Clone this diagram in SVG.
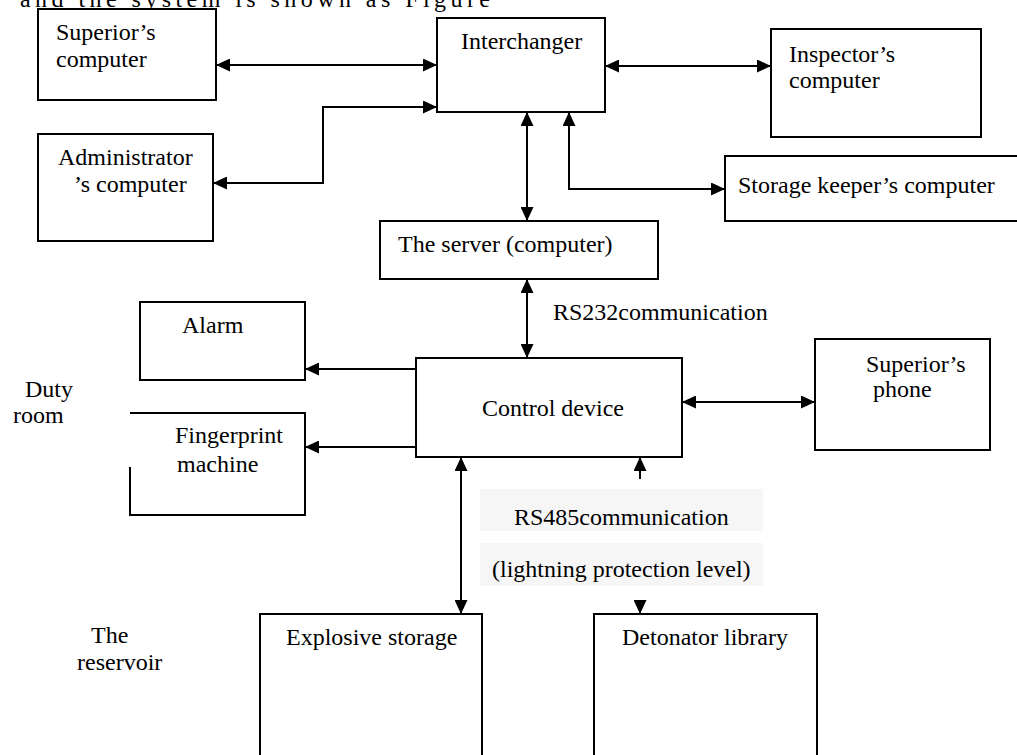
<svg xmlns="http://www.w3.org/2000/svg" width="1017" height="755" viewBox="0 0 1017 755">
<style>
text{font-family:"Liberation Serif","Times New Roman",serif;font-size:24px;fill:#000}
.box{fill:#fff;stroke:#000;stroke-width:2}
.ln{fill:none;stroke:#000;stroke-width:2}
.bg{fill:#f6f6f6;stroke:none}
</style>
<defs>
<marker id="ah" markerUnits="userSpaceOnUse" markerWidth="15" markerHeight="13" refX="14" refY="6.5" orient="auto-start-reverse">
<path d="M0,0 L14,6.5 L0,13 z" fill="#000"/>
</marker>
</defs>
<rect width="1017" height="755" fill="#fff"/>
<text x="20" y="7" textLength="470" lengthAdjust="spacing">and the system is shown as Figure</text>

<g id="superior-computer"><rect class="box" x="38" y="9" width="178" height="91"/><text x="56" y="40">Superior’s</text><text x="56" y="67">computer</text></g>
<g id="interchanger"><rect class="box" x="437" y="18" width="168" height="94"/><text x="461" y="49">Interchanger</text></g>
<g id="inspector-computer"><rect class="box" x="771" y="29" width="210" height="108"/><text x="789" y="62">Inspector’s</text><text x="789" y="88">computer</text></g>
<g id="administrator-computer"><rect class="box" x="38" y="134" width="175" height="107"/><text x="58" y="165">Administrator</text><text x="74" y="192">’s computer</text></g>
<g id="storage-keeper"><rect class="box" x="725" y="156" width="300" height="65"/><text x="738" y="193">Storage keeper’s computer</text></g>
<g id="server"><rect class="box" x="380" y="221" width="278" height="58"/><text x="398" y="252">The server (computer)</text></g>
<g id="rs232-label"><text x="553" y="320">RS232communication</text></g>
<g id="alarm"><rect class="box" x="140" y="302" width="165" height="78"/><text x="182" y="333">Alarm</text></g>
<g id="duty-room"><text x="25" y="397">Duty</text><text x="13" y="423">room</text></g>
<g id="control-device"><rect class="box" x="416" y="358" width="266" height="99"/><text x="482" y="416">Control device</text></g>
<g id="superior-phone"><rect class="box" x="815" y="339" width="175" height="111"/><text x="866" y="372">Superior’s</text><text x="873" y="397">phone</text></g>
<g id="fingerprint"><path class="box" d="M130,467 V515 H305 V413 H130"/><text x="175" y="443">Fingerprint</text><text x="177" y="472">machine</text></g>
<g id="rs485-label"><rect class="bg" x="480" y="489" width="283" height="42"/><text x="514" y="525">RS485communication</text><rect class="bg" x="480" y="543" width="283" height="43"/><text x="492" y="577">(lightning protection level)</text></g>
<g id="reservoir"><text x="91" y="643">The</text><text x="77" y="670">reservoir</text></g>
<g id="explosive-storage"><rect class="box" x="260" y="614" width="222" height="160"/><text x="286" y="645">Explosive storage</text></g>
<g id="detonator-library"><rect class="box" x="594" y="614" width="223" height="160"/><text x="622" y="645">Detonator library</text></g>

<g id="connectors">
<line class="ln" x1="216" y1="65" x2="437" y2="65" marker-start="url(#ah)" marker-end="url(#ah)"/>
<path class="ln" d="M213,183 H323 V107 H437" marker-start="url(#ah)" marker-end="url(#ah)"/>
<line class="ln" x1="605" y1="66" x2="771" y2="66" marker-start="url(#ah)" marker-end="url(#ah)"/>
<line class="ln" x1="527" y1="112" x2="527" y2="221" marker-start="url(#ah)" marker-end="url(#ah)"/>
<path class="ln" d="M569,112 V189 H725" marker-start="url(#ah)" marker-end="url(#ah)"/>
<line class="ln" x1="527" y1="279" x2="527" y2="358" marker-start="url(#ah)" marker-end="url(#ah)"/>
<line class="ln" x1="416" y1="369" x2="305" y2="369" marker-end="url(#ah)"/>
<line class="ln" x1="416" y1="447" x2="305" y2="447" marker-end="url(#ah)"/>
<line class="ln" x1="682" y1="402" x2="815" y2="402" marker-start="url(#ah)" marker-end="url(#ah)"/>
<line class="ln" x1="461" y1="457" x2="461" y2="614" marker-start="url(#ah)" marker-end="url(#ah)"/>
<line class="ln" x1="640" y1="479" x2="640" y2="457" marker-end="url(#ah)"/>
<line class="ln" x1="640" y1="601" x2="640" y2="614" marker-end="url(#ah)"/>
</g>
</svg>
